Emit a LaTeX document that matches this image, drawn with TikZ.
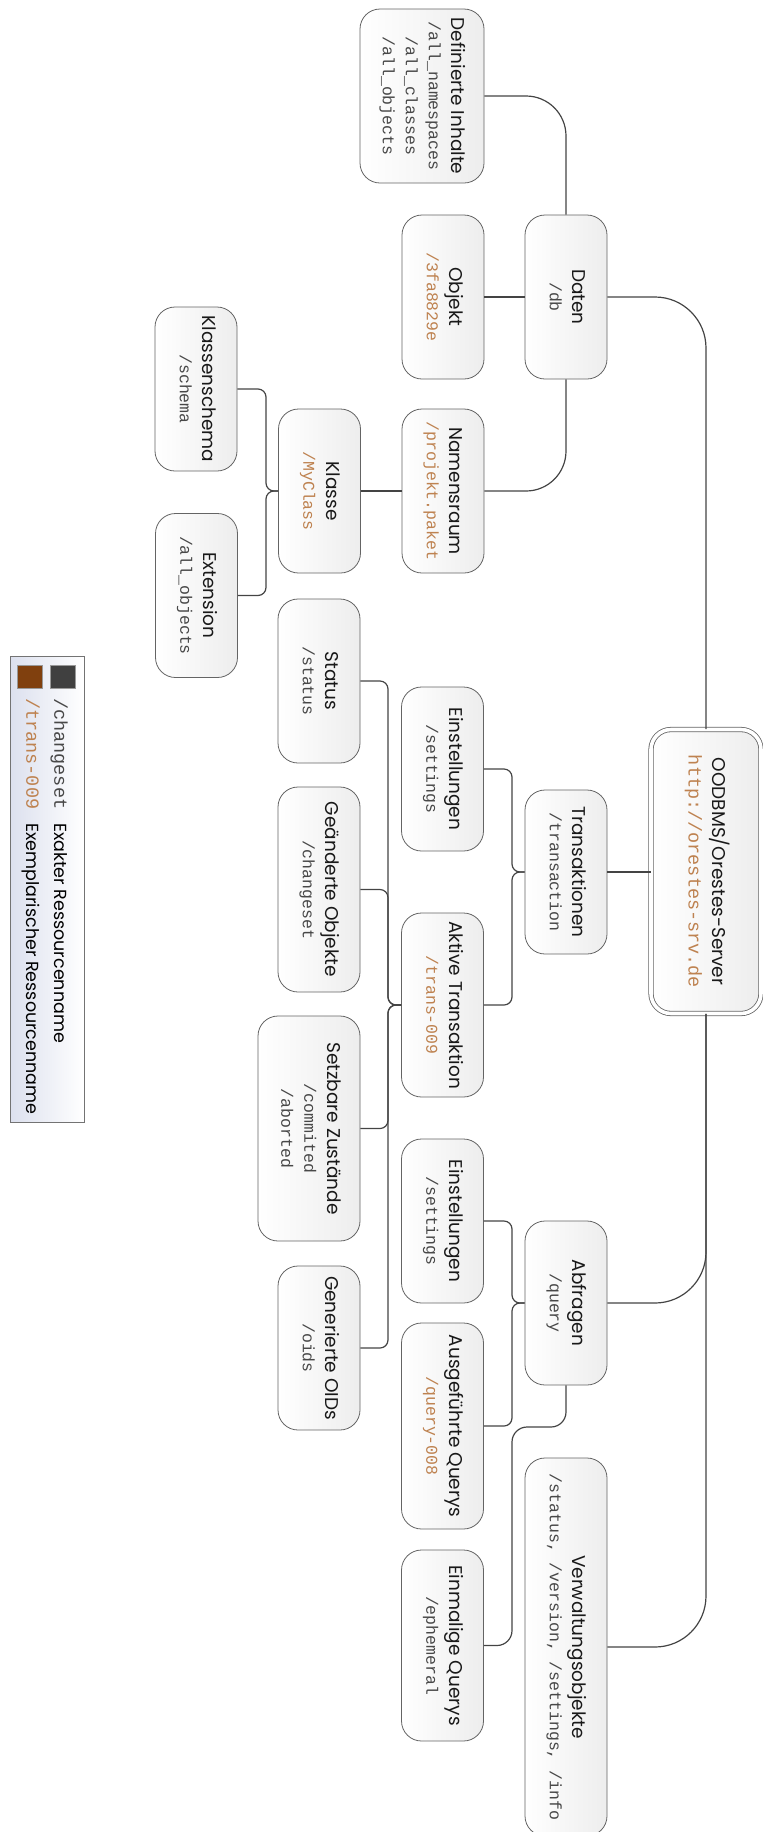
\documentclass[tikz,border=0pt]{standalone}
\usepackage{graphicx}
\usepackage{fontspec}
\setmainfont{Poppins}
\newfontfamily\resmono{Liberation Mono}

\definecolor{edgegray}{RGB}{68,68,68}
\definecolor{boxline}{RGB}{100,100,100}
\definecolor{exactcol}{RGB}{72,72,72}
\definecolor{samplecol}{RGB}{190,130,80}
\definecolor{swatchgray}{RGB}{64,64,64}
\definecolor{swatchbrown}{RGB}{128,64,14}
\definecolor{legendfill}{RGB}{220,224,238}

% exact resource names (grey) and sample resource names (brown)
\newcommand\exact[1]{{\resmono\fontsize{16.5}{22}\selectfont\color{exactcol}#1}}
\newcommand\sample[1]{{\resmono\fontsize{16.5}{22}\selectfont\color{samplecol}#1}}
% label turned to read top-down
\newcommand\lbl[1]{\rotatebox{-90}{\begin{tabular}{@{}c@{}}#1\end{tabular}}}

\begin{document}
\begin{tikzpicture}[x=1pt,y=-1pt,
  resbox/.style={draw=boxline, line width=0.8pt, rounded corners=20pt,
    left color=white, right color=black!7, inner sep=0pt,
    minimum width=82pt, minimum height=164pt, text=black!90,
    font=\fontsize{18.5}{23}\selectfont},
  rootbox/.style={resbox, double=white, double distance=3.6pt,
    minimum width=110pt, minimum height=284pt},
  conn/.style={draw=edgegray, line width=1.2pt},
  legendbox/.style={draw=black!55, line width=0.8pt, left color=legendfill,
    right color=white, inner sep=0pt},
  swatch/.style={draw=black!40, line width=0.4pt, inner sep=0pt,
    minimum width=25pt, minimum height=23pt}
]
\useasboundingbox (0,0) rectangle (763,1832);

% ---- server root ----
\node[rootbox] (root) at (706,871.5)
  {\lbl{OODBMS/Orestes-Server\\[1pt]{\resmono\fontsize{18.5}{22}\selectfont\color{samplecol}http://orestes-srv.de}}};

% ---- data branch ----
\node[resbox, minimum width=124pt, minimum height=174pt] (def) at (422,96)
  {\lbl{Definierte Inhalte\\\exact{/all\_namespaces}\\\exact{/all\_classes}\\\exact{/all\_objects}}};
\node[resbox] (obj) at (443,297) {\lbl{Objekt\\\sample{/3fa8829e}}};
\node[resbox] (daten) at (566,297) {\lbl{Daten\\\exact{/db}}};
\node[resbox] (nam) at (443,491) {\lbl{Namensraum\\\sample{/projekt.paket}}};
\node[resbox] (klasse) at (319.5,491) {\lbl{Klasse\\\sample{/MyClass}}};
\node[resbox] (schema) at (196,389) {\lbl{Klassenschema\\\exact{/schema}}};
\node[resbox] (ext) at (196.5,595.5) {\lbl{Extension\\\exact{/all\_objects}}};

% ---- transaction branch ----
\node[resbox] (trans) at (566,872) {\lbl{Transaktionen\\\exact{/transaction}}};
\node[resbox] (setT) at (442.5,769) {\lbl{Einstellungen\\\exact{/settings}}};
\node[resbox, minimum height=184pt] (aktiv) at (442.5,1005) {\lbl{Aktive Transaktion\\\sample{/trans-009}}};
\node[resbox] (status) at (319,681) {\lbl{Status\\\exact{/status}}};
\node[resbox, minimum height=205pt] (changes) at (319,889.5) {\lbl{Geänderte Objekte\\\exact{/changeset}}};
\node[resbox, minimum width=102pt, minimum height=225pt] (setz) at (309,1128.5)
  {\lbl{Setzbare Zustände\\\exact{/commited}\\\exact{/aborted}}};
\node[resbox] (oids) at (319,1348) {\lbl{Generierte OIDs\\\exact{/oids}}};

% ---- query branch ----
\node[resbox] (abfr) at (566,1303) {\lbl{Abfragen\\\exact{/query}}};
\node[resbox] (setQ) at (442.5,1221) {\lbl{Einstellungen\\\exact{/settings}}};
\node[resbox, minimum height=206pt] (ausg) at (442.5,1426) {\lbl{Ausgeführte Querys\\\sample{/query-008}}};
\node[resbox, minimum height=191pt] (einm) at (442.5,1645.5) {\lbl{Einmalige Querys\\\exact{/ephemeral}}};

% ---- management objects ----
\node[resbox, minimum height=378pt] (verw) at (566,1647)
  {\lbl{Verwaltungsobjekte\\\exact{/status, /version, /settings, /info}}};

% ---- junction points of the brackets ----
\coordinate (kj) at (266,491);
\coordinate (tj) at (512,872);
\coordinate (qj) at (512,1303);
\coordinate (aj) at (388,1005);
\coordinate (eq) at (512,1427);

% ---- connectors ----
\draw[conn, rounded corners=51pt] (daten.east) -| (root.north);
\draw[conn] (trans.east) -- (trans.east -| root.west);
\draw[conn, rounded corners=51pt] (abfr.east) -| (root.south);
\draw[conn, rounded corners=51pt] (verw.east) -| (root.south);

\draw[conn, rounded corners=40pt] (def.east) -| (daten.north);
\draw[conn] (obj.east) -- (daten.west);
\draw[conn, rounded corners=40pt] (nam.east) -| (daten.south);
\draw[conn] (klasse.east) -- (nam.west);
\draw[conn, rounded corners=8pt] (schema.east) -| (kj) -- (klasse.west);
\draw[conn, rounded corners=8pt] (ext.east) -| (kj) -- (klasse.west);

\draw[conn, rounded corners=8pt] (setT.east) -| (tj) -- (trans.west);
\draw[conn, rounded corners=8pt] (aktiv.east) -| (tj) -- (trans.west);
\draw[conn, rounded corners=8pt] (status.east) -| (aj) -- (aktiv.west);
\draw[conn, rounded corners=8pt] (changes.east) -| (aj) -- (aktiv.west);
\draw[conn, rounded corners=8pt] (setz.east) -| (aj) -- (aktiv.west);
\draw[conn, rounded corners=8pt] (oids.east) -| (aj) -- (aktiv.west);

\draw[conn, rounded corners=8pt] (setQ.east) -| (qj) -- (abfr.west);
\draw[conn, rounded corners=8pt] (ausg.east) -| (qj) -- (abfr.west);
\draw[conn, rounded corners=15pt] (abfr.south) |- (eq) |- (einm.east);

% ---- legend ----
\node[legendbox, minimum width=74pt, minimum height=466pt] (legend) at (47,889) {};
\node[swatch, fill=swatchgray] (swexact) at (62.5,676.5) {};
\node[swatch, fill=swatchbrown] (swsample) at (30,676.5) {};
\node[anchor=north, inner sep=0pt, font=\fontsize{17.5}{28}\selectfont] (legtext) at (46,698)
  {\rotatebox{-90}{\begin{tabular}{@{}l@{\hspace{14pt}}l@{}}
    {\resmono\fontsize{18.5}{28}\selectfont\color{exactcol}/changeset} & Exakter Ressourcenname\\
    {\resmono\fontsize{18.5}{28}\selectfont\color{samplecol}/trans-009} & Exemplarischer Ressourcenname
  \end{tabular}}};
\end{tikzpicture}
\end{document}
